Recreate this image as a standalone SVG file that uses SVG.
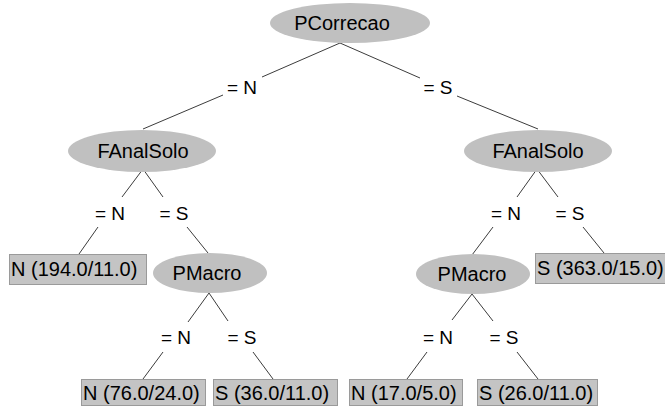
<svg xmlns="http://www.w3.org/2000/svg" width="665" height="406" viewBox="0 0 665 406">
  <style>
    text { font-family: "Liberation Sans", Arial, sans-serif; font-size: 20px; fill: #000; }
    .mid { text-anchor: middle; }
    .lbl { font-size: 19px; }
    .node ellipse { fill: #c0c0c0; stroke: none; }
    .leaf rect { fill: #c4c4c4; stroke: #9a9a9a; stroke-width: 1; }
    .edges line { stroke: #3c3c3c; stroke-width: 1; }
  </style>
  <rect width="665" height="406" fill="#fff"/>

  <!-- connectors with their branch labels -->
  <g id="edges" class="edges">
    <line x1="340" y1="43" x2="262" y2="77"/>
    <line x1="223" y1="95" x2="143" y2="129"/>
    <line x1="340" y1="43" x2="420" y2="78"/>
    <line x1="457" y1="96" x2="538" y2="129"/>

    <line x1="143" y1="169" x2="122" y2="197"/>
    <line x1="143" y1="169" x2="163" y2="197"/>
    <line x1="98" y1="227" x2="79" y2="254"/>
    <line x1="187" y1="227" x2="208" y2="253"/>

    <line x1="209" y1="293" x2="188" y2="322"/>
    <line x1="209" y1="293" x2="228" y2="321"/>
    <line x1="163" y1="352" x2="143" y2="379"/>
    <line x1="253" y1="352" x2="273" y2="379"/>

    <line x1="537" y1="169" x2="517" y2="197"/>
    <line x1="537" y1="169" x2="558" y2="197"/>
    <line x1="493" y1="227" x2="472" y2="255"/>
    <line x1="583" y1="227" x2="604" y2="253"/>

    <line x1="472" y1="294" x2="452" y2="320"/>
    <line x1="472" y1="294" x2="493" y2="321"/>
    <line x1="427" y1="352" x2="407" y2="379"/>
    <line x1="517" y1="352" x2="538" y2="379"/>

    <text class="mid lbl" x="242" y="94">= N</text>
    <text class="mid lbl" x="438" y="94">= S</text>
    <text class="mid lbl" x="110" y="220">= N</text>
    <text class="mid lbl" x="174" y="220">= S</text>
    <text class="mid lbl" x="506" y="220">= N</text>
    <text class="mid lbl" x="570" y="220">= S</text>
    <text class="mid lbl" x="176" y="344">= N</text>
    <text class="mid lbl" x="242" y="344">= S</text>
    <text class="mid lbl" x="438" y="344">= N</text>
    <text class="mid lbl" x="504" y="344">= S</text>
  </g>

  <!-- decision nodes -->
  <g id="n-pcorrecao" class="node">
    <ellipse cx="350" cy="23" rx="80" ry="20"/>
    <text class="mid" x="342" y="30">PCorrecao</text>
  </g>
  <g id="n-fanalsolo-n" class="node">
    <ellipse cx="142" cy="151" rx="74" ry="21"/>
    <text class="mid" x="143" y="158">FAnalSolo</text>
  </g>
  <g id="n-fanalsolo-s" class="node">
    <ellipse cx="538" cy="151" rx="74" ry="21"/>
    <text class="mid" x="538" y="158">FAnalSolo</text>
  </g>
  <g id="n-pmacro-l" class="node">
    <ellipse cx="210" cy="273" rx="57" ry="20"/>
    <text class="mid" x="207" y="280">PMacro</text>
  </g>
  <g id="n-pmacro-r" class="node">
    <ellipse cx="473" cy="274" rx="57" ry="20"/>
    <text class="mid" x="472" y="281">PMacro</text>
  </g>

  <!-- leaves -->
  <g id="leaf-n194" class="leaf">
    <rect x="9.5" y="254.5" width="137" height="30"/>
    <text x="11" y="276">N (194.0/11.0)</text>
  </g>
  <g id="leaf-s363" class="leaf">
    <rect x="535.5" y="253.5" width="140" height="30"/>
    <text x="537" y="275">S (363.0/15.0)</text>
  </g>
  <g id="leaf-n76" class="leaf">
    <rect x="81.5" y="379.5" width="124" height="26"/>
    <text x="83" y="400">N (76.0/24.0)</text>
  </g>
  <g id="leaf-s36" class="leaf">
    <rect x="213.5" y="379.5" width="124" height="26"/>
    <text x="215" y="400">S (36.0/11.0)</text>
  </g>
  <g id="leaf-n17" class="leaf">
    <rect x="349.5" y="379.5" width="113" height="26"/>
    <text x="351" y="400">N (17.0/5.0)</text>
  </g>
  <g id="leaf-s26" class="leaf">
    <rect x="477.5" y="379.5" width="120" height="26"/>
    <text x="479" y="400">S (26.0/11.0)</text>
  </g>
</svg>
